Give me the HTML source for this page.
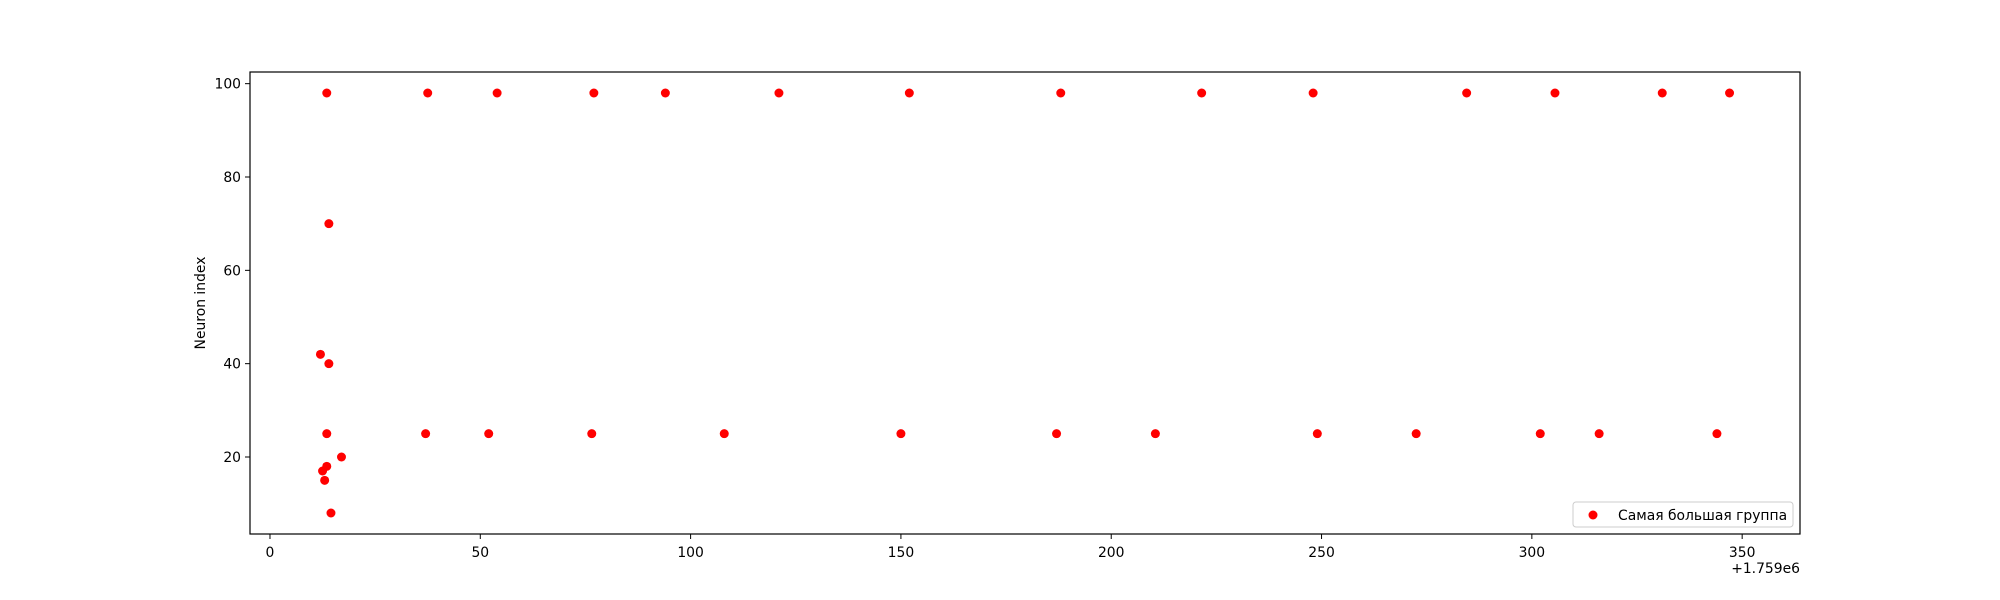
<!DOCTYPE html>
<html><head><meta charset="utf-8"><style>
html,body{margin:0;padding:0;background:#fff;}
svg{display:block;font-family:"DejaVu Sans","Liberation Sans",sans-serif;}
</style></head><body>
<svg id="chart" width="2000" height="600" xmlns="http://www.w3.org/2000/svg">
<rect width="2000" height="600" fill="#fff"/>
<g id="marks"></g>
<g id="axes"></g>
</svg>
<script>
const xValues = [13.5,37.5,54,77,94,121,152,188,221.5,248,284.5,305.5,331,347,
  13.5,37,52,76.5,108,150,187,210.5,249,272.5,302,316,344,
  12,14,14,12.5,13,13.5,17,14.5];
const yValues = [98,98,98,98,98,98,98,98,98,98,98,98,98,98,
  25,25,25,25,25,25,25,25,25,25,25,25,25,
  42,40,70,17,15,18,20,8];
const xTicks = [0,50,100,150,200,250,300,350];
const yTicks = [20,40,60,80,100];
const seriesLabel = "Самая большая группа";
const xOffsetLabel = "+1.759e6";
const yAxisTitle = "Neuron index";

const L=250,R=1800,T=72,B=534;
const xmin=Math.min(...xValues),xmax=Math.max(...xValues);
const ymin=Math.min(...yValues),ymax=Math.max(...yValues);
const x0=xmin-(xmax-xmin)*0.05,x1=xmax+(xmax-xmin)*0.05;
const y0=ymin-(ymax-ymin)*0.05,y1=ymax+(ymax-ymin)*0.05;
const sx=v=>L+(v-x0)/(x1-x0)*(R-L);
const sy=v=>B-(v-y0)/(y1-y0)*(B-T);
const NS="http://www.w3.org/2000/svg";
function mk(tag,attrs,parent,text){const e=document.createElementNS(NS,tag);for(const k in attrs)e.setAttribute(k,attrs[k]);if(text!==undefined)e.textContent=text;parent.appendChild(e);return e;}
const marks=document.getElementById('marks'),axes=document.getElementById('axes');
xValues.forEach((v,i)=>{
  const c=mk('circle',{cx:sx(v),cy:sy(yValues[i]),r:4.5,fill:'#ff0000'},marks);
  
  
});
const frame=mk('rect',{x:L,y:T,width:R-L,height:B-T,fill:'none',stroke:'#000','stroke-width':1.2},axes);


xTicks.forEach(t=>{
  const x=sx(t);
  mk('line',{x1:x,x2:x,y1:B,y2:B+5,stroke:'#000','stroke-width':1},axes);
  const tx=mk('text',{x:x,y:B+23,'text-anchor':'middle','font-size':13.9,fill:'#000'},axes,String(t));
  
  
});
yTicks.forEach(t=>{
  const y=sy(t);
  mk('line',{x1:L-5,x2:L,y1:y,y2:y,stroke:'#000','stroke-width':1},axes);
  const tx=mk('text',{x:L-9,y:y+5,'text-anchor':'end','font-size':13.9,fill:'#000'},axes,String(t));
  
  
});
const off=mk('text',{x:R,y:573,'text-anchor':'end','font-size':13.9,fill:'#000'},axes,xOffsetLabel);


const yt=mk('text',{x:0,y:0,'text-anchor':'middle','font-size':13.9,fill:'#000',transform:'translate(205,303) rotate(-90)'},axes,yAxisTitle);


const lg=mk('g',{},axes);


mk('rect',{x:1573,y:502,width:220,height:25,rx:3,fill:'#fff','fill-opacity':0.8,stroke:'#ccc','stroke-width':1},lg);
mk('circle',{cx:1593,cy:515,r:4.5,fill:'#ff0000'},lg);
const lt=mk('text',{x:1618,y:520,'font-size':13.9,fill:'#000'},lg,seriesLabel);


</script>
</body></html>
